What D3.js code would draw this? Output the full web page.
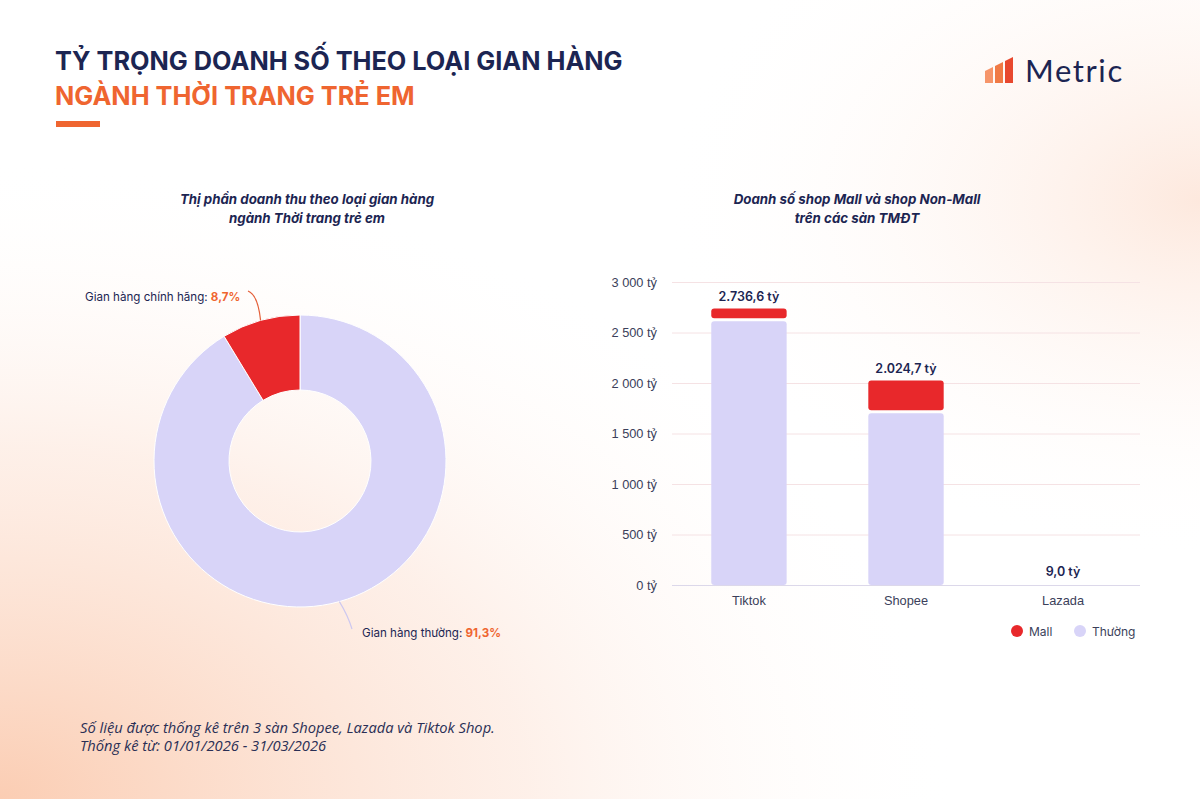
<!DOCTYPE html>
<meta charset="utf-8">
<title>Tỷ trọng doanh số theo loại gian hàng</title>
<style>
  html, body { margin: 0; padding: 0; background: #fff; }
  svg { display: block; font-family: 'Inter', 'Noto Sans', sans-serif; }
  .title { font-weight: 700; font-size: 25.3px; }
  .chart-title { font-weight: 700; font-style: italic; font-size: 13.3px; fill: #1c2552; text-anchor: middle; }
  .tick text { font-size: 12.8px; fill: #3b3f5a; }
  .foot { font-family: 'Open Sans', 'Noto Sans', sans-serif; font-style: italic; font-size: 14.7px; fill: #2a2f55; }
</style>
<svg id="chart" width="1200" height="799"></svg>
<script src="https://cdn.jsdelivr.net/npm/d3@7"></script>
<script>
  'use strict'
  // donut: share of revenue by store type
  const shareLabels = ['Gian hàng thường', 'Gian hàng chính hãng']
  const shareValues = [91.3, 8.7]

  // stacked bars: revenue (tỷ) by platform
  const platforms = ['Tiktok', 'Shopee', 'Lazada']
  const normalValues = [2626.6, 1714.7, 7.5]
  const mallValues = [110.0, 310.0, 1.5]
  const yTicks = [0, 500, 1000, 1500, 2000, 2500, 3000]
  const seriesNames = ['Mall', 'Thường']

  const navy = '#1c2552'
  const orange = '#ef6530'
  const red = '#e8282b'
  const lav = '#d8d4f8'

  const svg = d3.select('#chart')

  // background tint
  const defs = svg.append('defs')
  const g1 = defs.append('radialGradient').attr('id', 'bgL')
    .attr('cx', 0).attr('cy', 1).attr('r', 0.8)
  g1.append('stop').attr('offset', '0%').attr('stop-color', '#fbcdb3').attr('stop-opacity', 1)
  g1.append('stop').attr('offset', '55%').attr('stop-color', '#fde8dd').attr('stop-opacity', 0.65)
  g1.append('stop').attr('offset', '100%').attr('stop-color', '#fff').attr('stop-opacity', 0)
  const g2 = defs.append('radialGradient').attr('id', 'bgR')
    .attr('cx', 1).attr('cy', 0.25).attr('r', 0.45)
  g2.append('stop').attr('offset', '0%').attr('stop-color', '#fde6da').attr('stop-opacity', 0.9)
  g2.append('stop').attr('offset', '100%').attr('stop-color', '#fff').attr('stop-opacity', 0)
  svg.append('rect').attr('width', 1200).attr('height', 799).attr('fill', '#fff')
  svg.append('rect').attr('width', 1200).attr('height', 799).attr('fill', 'url(#bgL)')
  svg.append('rect').attr('width', 1200).attr('height', 799).attr('fill', 'url(#bgR)')

  // header
  svg.append('text').attr('class', 'title').attr('x', 55).attr('y', 70)
    .attr('fill', navy).text('TỶ TRỌNG DOANH SỐ THEO LOẠI GIAN HÀNG')
  svg.append('text').attr('class', 'title').attr('x', 55).attr('y', 105)
    .attr('fill', orange).text('NGÀNH THỜI TRANG TRẺ EM')
  svg.append('rect').attr('x', 56).attr('y', 121).attr('width', 44).attr('height', 6).attr('fill', orange)

  // logo
  const logo = svg.append('g').attr('transform', 'translate(985,57)')
  ;[[0, 10, '#f6956a'], [10, 5, '#f07a45'], [20, 0, '#e8482e']].forEach(([lx, ly, c]) => {
    logo.append('path')
      .attr('d', `M${lx},${ly + 4} L${lx + 8},${ly} L${lx + 8},26 L${lx},26 Z`)
      .attr('fill', c)
  })
  svg.append('text').attr('x', 1025).attr('y', 82)
    .attr('font-family', "'Lato', sans-serif").attr('font-size', 31)
    .attr('fill', navy).attr('letter-spacing', 1.6).text('Metric')

  // chart titles
  const ct = (cx, lines) => lines.forEach((t, i) =>
    svg.append('text').attr('class', 'chart-title').attr('x', cx).attr('y', 204 + i * 19).text(t))
  ct(307, ['Thị phần doanh thu theo loại gian hàng', 'ngành Thời trang trẻ em'])
  ct(857, ['Doanh số shop Mall và shop Non-Mall', 'trên các sàn TMĐT'])

  // ---- donut
  const cx = 300, cy = 461, rOut = 146, rIn = 71
  const pie = d3.pie().sort(null).value(d => d)
  const arcs = pie(shareValues)
  const arc = d3.arc().innerRadius(rIn).outerRadius(rOut)
  const donut = svg.append('g').attr('transform', `translate(${cx},${cy})`)
  donut.selectAll('path').data(arcs).enter().append('path')
    .attr('d', arc)
    .attr('fill', (d, i) => i === 0 ? lav : red)
    .attr('stroke', '#fff').attr('stroke-width', 1)

  const fmtPct = d3.formatLocale({ decimal: ',', thousands: '.', grouping: [3], currency: ['', ''] }).format('.1f')
  const labelPos = [[362, 637, 352, 629], [85, 301, 248, 291]]
  arcs.forEach((a, i) => {
    const m = (a.startAngle + a.endAngle) / 2
    const px = cx + rOut * Math.sin(m), py = cy - rOut * Math.cos(m)
    const [lx, ly, ex, ey] = labelPos[i]
    const mx = i === 0 ? ex - 4 : ex + 10
    const my = i === 0 ? py + 14 : ey + 4
    svg.append('path')
      .attr('d', `M${px},${py} Q${mx},${my} ${ex},${ey}`)
      .attr('fill', 'none').attr('stroke', i === 0 ? '#cdc8f0' : '#e4603a').attr('stroke-width', 1.2)
    const t = svg.append('text').attr('x', lx).attr('y', ly).attr('font-size', 11.6).attr('fill', navy)
    t.append('tspan').text(shareLabels[i] + ': ')
    t.append('tspan').attr('fill', orange).attr('font-weight', 700).text(fmtPct(shareValues[i]) + '%')
  })

  // ---- stacked bars
  const plotL = 672, plotR = 1140, plotT = 282, plotB = 585
  const x = d3.scaleBand().domain(platforms).range([plotL, plotR]).paddingInner(0.52).paddingOuter(0.25)
  const y = d3.scaleLinear().domain([0, 3000]).range([plotB, plotT])
  const spaceFmt = d3.formatLocale({ decimal: ',', thousands: ' ', grouping: [3], currency: ['', ''] }).format(',')
  const viFmt = d3.formatLocale({ decimal: ',', thousands: '.', grouping: [3], currency: ['', ''] }).format(',.1f')

  const yAxis = svg.append('g').attr('transform', `translate(${plotL},0)`)
    .call(d3.axisLeft(y).tickValues(yTicks).tickSize(-(plotR - plotL)).tickPadding(15)
      .tickFormat(d => spaceFmt(d) + ' tỷ'))
  yAxis.select('.domain').remove()
  yAxis.selectAll('.tick line').attr('stroke', d => d === 0 ? '#dcd8ea' : '#f5e2e4')

  const xAxis = svg.append('g').attr('transform', `translate(0,${plotB})`)
    .call(d3.axisBottom(x).tickSize(0).tickPadding(11))
  xAxis.select('.domain').remove()

  const rows = platforms.map((p, i) => ({ p, 'Thường': normalValues[i], 'Mall': mallValues[i] }))
  const stack = d3.stack().keys(['Thường', 'Mall'])(rows)
  const color = { 'Thường': lav, 'Mall': red }
  stack.forEach(s => {
    svg.append('g').selectAll('rect').data(s).enter().append('rect')
      .attr('x', d => x(d.data.p))
      .attr('width', x.bandwidth())
      .attr('y', d => y(d[1]) + (s.key === 'Thường' ? 1.5 : 0))
      .attr('height', d => Math.max(0, y(d[0]) - y(d[1]) - 1.5))
      .attr('rx', 3)
      .attr('fill', color[s.key])
  })

  svg.append('g').selectAll('text').data(rows).enter().append('text')
    .attr('x', d => x(d.p) + x.bandwidth() / 2)
    .attr('y', d => y(d['Thường'] + d['Mall']) - 8)
    .attr('text-anchor', 'middle').attr('font-size', 12.5).attr('font-weight', 600).attr('fill', navy)
    .text(d => viFmt(d['Thường'] + d['Mall']) + ' tỷ')

  // legend
  const lg = svg.append('g').attr('transform', 'translate(1017,631)')
  seriesNames.forEach((n, i) => {
    const gx = i * 63
    lg.append('circle').attr('cx', gx).attr('cy', 0).attr('r', 6).attr('fill', color[n])
    lg.append('text').attr('x', gx + 12).attr('y', 4.5).attr('font-size', 12).attr('fill', '#3b3f5a').text(n)
  })

  // footer
  svg.append('text').attr('class', 'foot').attr('x', 80).attr('y', 733)
    .text('Số liệu được thống kê trên 3 sàn Shopee, Lazada và Tiktok Shop.')
  svg.append('text').attr('class', 'foot').attr('x', 80).attr('y', 751)
    .text('Thống kê từ: 01/01/2026 - 31/03/2026')
</script>
